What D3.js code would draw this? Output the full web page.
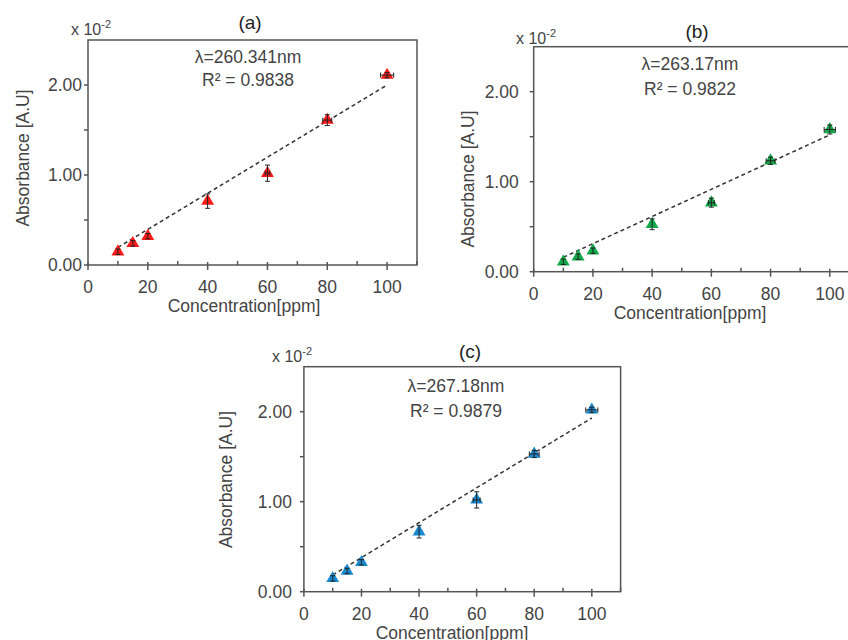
<!DOCTYPE html>
<html lang="en">
<head>
    <meta charset="UTF-8">
    <title>Absorbance vs Concentration</title>
    <script src="https://d3js.org/d3.v7.min.js"></script>
    <style>
        body {
            margin: 0;
            background-color: #ffffff;
        }
        svg {
            display: block;
            font-family: 'Liberation Sans', Arial, sans-serif;
        }
    </style>
</head>
<body>
    <svg id="chart" width="848" height="640"></svg>

    <script>
        // data
        const conc = [10, 15, 20, 40, 60, 80, 100];

        const absA = [0.148, 0.24, 0.32, 0.71, 1.02, 1.61, 2.11];
        const absB = [0.11, 0.167, 0.233, 0.527, 0.767, 1.233, 1.58];
        const absC = [0.148, 0.23, 0.326, 0.667, 1.02, 1.53, 2.02];

        const yErrA = [0.03, 0.03, 0.03, 0.08, 0.09, 0.06, 0.03];
        const yErrB = [0.03, 0.03, 0.03, 0.06, 0.05, 0.04, 0.05];
        const yErrC = [0.03, 0.03, 0.03, 0.07, 0.09, 0.04, 0.03];

        const xErrA = [0, 0, 0, 0, 0.8, 1.5, 2.2];
        const xErrB = [0, 0, 0, 0, 1.0, 1.5, 1.9];
        const xErrC = [0, 0, 0, 0, 1.2, 1.7, 2.1];

        // trendline end points (x, y)
        const trendA = [[10, 0.195], [100, 2.0]];
        const trendB = [[10, 0.16], [100, 1.52]];
        const trendC = [[10, 0.185], [100, 1.93]];

        const xMajor = [0, 20, 40, 60, 80, 100];
        const xMinor = [10, 30, 50, 70, 90, 110];
        const yMajor = [0, 1, 2];
        const yMinor = [0.5, 1.5];

        const panelNames = ["(a)", "(b)", "(c)"];
        const lambdas = ["λ=260.341nm", "λ=263.17nm", "λ=267.18nm"];
        const r2s = ["R² = 0.9838", "R² = 0.9822", "R² = 0.9879"];
        const colors = ["#ff1a1a", "#14a84b", "#1a8ad0"];

        const svg = d3.select("#chart");
        const axisColor = "#555";
        const textColor = "#444";

        const panels = [
            { y: absA, ye: yErrA, xe: xErrA, trend: trendA,
              x0: 88, x1: 417, yb: 265, yt: 40,
              title: [250, 29], x10: [71, 35], ann: [248, 63, 86],
              yLab: [22.5, 158], xLab: [244, 312], tickBase: 293, yTickGap: 6 },
            { y: absB, ye: yErrB, xe: xErrB, trend: trendB,
              x0: 533.7, x1: 859.4, yb: 271.7, yt: 46.7,
              title: [697, 38], x10: [516, 44], ann: [690, 70, 95],
              yLab: [467.5, 179], xLab: [690, 319], tickBase: 300, yTickGap: 15 },
            { y: absC, ye: yErrC, xe: xErrC, trend: trendC,
              x0: 303.9, x1: 620.6, yb: 591.7, yt: 366.7,
              title: [470, 358], x10: [272, 362], ann: [456, 392, 417],
              yLab: [225.5, 479.5], xLab: [452, 639], tickBase: 620, yTickGap: 12 }
        ];

        panels.forEach((p, i) => {
            const x = d3.scaleLinear().domain([0, 110]).range([p.x0, p.x1]);
            const y = d3.scaleLinear().domain([0, 2.5]).range([p.yb, p.yt]);
            const g = svg.append("g");

            // frame
            g.append("rect")
                .attr("x", x(0)).attr("y", y(2.5))
                .attr("width", x(110) - x(0)).attr("height", y(0) - y(2.5))
                .attr("fill", "none")
                .attr("stroke", axisColor)
                .attr("stroke-width", 1.5);

            // x ticks
            g.selectAll(".xmaj").data(xMajor).enter().append("line")
                .attr("x1", d => x(d)).attr("x2", d => x(d))
                .attr("y1", y(0) - 3).attr("y2", y(0) + 5)
                .attr("stroke", axisColor).attr("stroke-width", 1.5);
            g.selectAll(".xmin").data(xMinor).enter().append("line")
                .attr("x1", d => x(d)).attr("x2", d => x(d))
                .attr("y1", y(0) - 4).attr("y2", y(0))
                .attr("stroke", axisColor).attr("stroke-width", 1.5);
            g.selectAll(".xlab").data(xMajor).enter().append("text")
                .attr("x", d => x(d)).attr("y", p.tickBase)
                .attr("text-anchor", "middle")
                .attr("font-size", 17.5).attr("fill", textColor)
                .text(d => d);

            // y ticks
            g.selectAll(".ytk").data(yMajor.concat(yMinor)).enter().append("line")
                .attr("x1", x(0) - 4).attr("x2", x(0))
                .attr("y1", d => y(d)).attr("y2", d => y(d))
                .attr("stroke", axisColor).attr("stroke-width", 1.5);
            g.selectAll(".ylab").data(yMajor).enter().append("text")
                .attr("x", x(0) - p.yTickGap).attr("y", d => y(d))
                .attr("dy", "0.35em")
                .attr("text-anchor", "end")
                .attr("font-size", 17.5).attr("fill", textColor)
                .text(d => d3.format(".2f")(d));

            // multiplier
            const m = g.append("text")
                .attr("x", p.x10[0]).attr("y", p.x10[1])
                .attr("font-size", 16).attr("fill", textColor);
            m.append("tspan").text("x 10");
            m.append("tspan").attr("font-size", 11).attr("dy", -7).text("-2");

            // panel title
            g.append("text")
                .attr("x", p.title[0]).attr("y", p.title[1])
                .attr("text-anchor", "middle")
                .attr("font-size", 19).attr("fill", "#222")
                .text(panelNames[i]);

            // annotation
            g.append("text")
                .attr("x", p.ann[0]).attr("y", p.ann[1])
                .attr("text-anchor", "middle")
                .attr("font-size", 17.5).attr("fill", textColor)
                .text(lambdas[i]);
            g.append("text")
                .attr("x", p.ann[0]).attr("y", p.ann[2])
                .attr("text-anchor", "middle")
                .attr("font-size", 17.5).attr("fill", textColor)
                .text(r2s[i]);

            // axis titles
            g.append("text")
                .attr("transform", `translate(${p.yLab[0]},${p.yLab[1]}) rotate(-90)`)
                .attr("dy", "0.35em")
                .attr("text-anchor", "middle")
                .attr("font-size", 17.5).attr("fill", textColor)
                .text("Absorbance [A.U]");
            g.append("text")
                .attr("x", p.xLab[0]).attr("y", p.xLab[1])
                .attr("text-anchor", "middle")
                .attr("font-size", 17.5).attr("fill", textColor)
                .text("Concentration[ppm]");

            // trend line
            g.append("path")
                .attr("d", d3.line().x(d => x(d[0])).y(d => y(d[1]))(p.trend))
                .attr("fill", "none")
                .attr("stroke", "#333")
                .attr("stroke-width", 1.5)
                .attr("stroke-dasharray", "4,3");

            const pts = conc.map((c, k) => ({ c: c, v: p.y[k], ye: p.ye[k], xe: p.xe[k] }));

            // markers
            g.selectAll(".pt").data(pts).enter().append("path")
                .attr("transform", d => `translate(${x(d.c)},${y(d.v)})`)
                .attr("d", d3.symbol(d3.symbolTriangle, 72))
                .attr("fill", colors[i]);

            // error bars
            const eb = g.selectAll(".eb").data(pts).enter().append("g")
                .attr("stroke", "#222").attr("stroke-width", 1);
            eb.append("line")
                .attr("x1", d => x(d.c)).attr("x2", d => x(d.c))
                .attr("y1", d => y(d.v - d.ye)).attr("y2", d => y(d.v + d.ye));
            eb.append("line")
                .attr("x1", d => x(d.c) - 2.5).attr("x2", d => x(d.c) + 2.5)
                .attr("y1", d => y(d.v + d.ye)).attr("y2", d => y(d.v + d.ye));
            eb.append("line")
                .attr("x1", d => x(d.c) - 2.5).attr("x2", d => x(d.c) + 2.5)
                .attr("y1", d => y(d.v - d.ye)).attr("y2", d => y(d.v - d.ye));
            eb.filter(d => d.xe > 0).append("line")
                .attr("x1", d => x(d.c - d.xe)).attr("x2", d => x(d.c + d.xe))
                .attr("y1", d => y(d.v)).attr("y2", d => y(d.v));
            eb.filter(d => d.xe > 0).append("line")
                .attr("x1", d => x(d.c - d.xe)).attr("x2", d => x(d.c - d.xe))
                .attr("y1", d => y(d.v) - 2.5).attr("y2", d => y(d.v) + 2.5);
            eb.filter(d => d.xe > 0).append("line")
                .attr("x1", d => x(d.c + d.xe)).attr("x2", d => x(d.c + d.xe))
                .attr("y1", d => y(d.v) - 2.5).attr("y2", d => y(d.v) + 2.5);
        });
    </script>
</body>
</html>
